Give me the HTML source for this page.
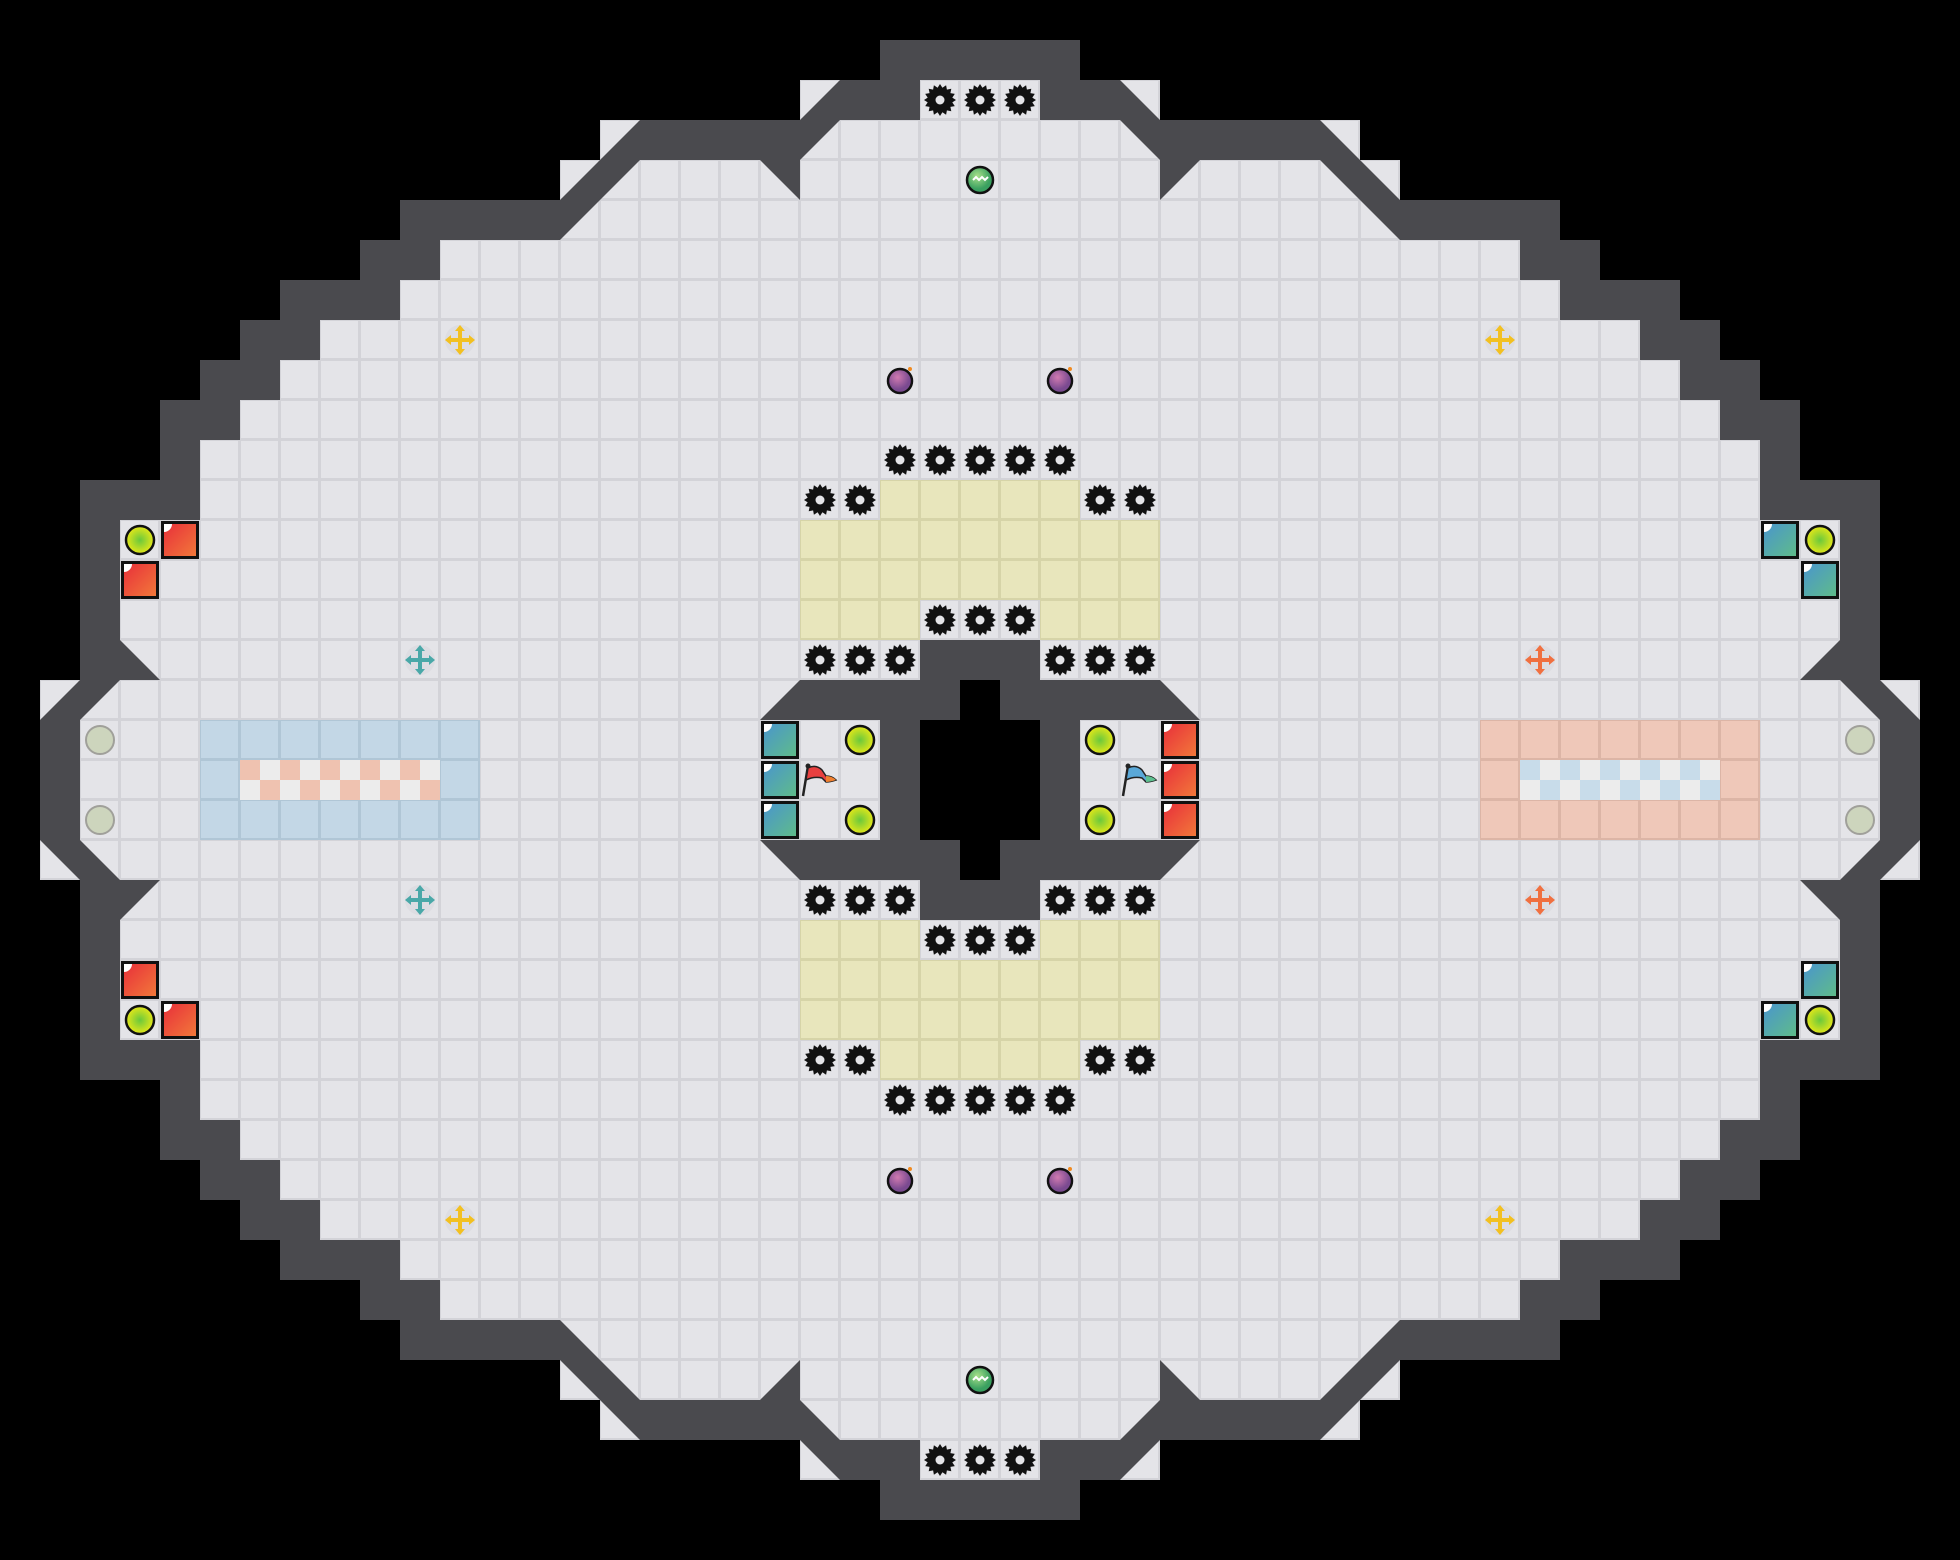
<!DOCTYPE html>
<html><head><meta charset="utf-8"><style>html,body{margin:0;padding:0;background:#000}svg{display:block}</style></head>
<body>
<svg id="s" xmlns="http://www.w3.org/2000/svg" width="1960" height="1560" viewBox="0 0 1960 1560">
<defs>
<linearGradient id="gr" x1="0" y1="0" x2="1" y2="1"><stop offset="0" stop-color="#e8303a"/><stop offset="1" stop-color="#f2783a"/></linearGradient>
<linearGradient id="gb" x1="0" y1="0" x2="1" y2="1"><stop offset="0" stop-color="#4a96cc"/><stop offset="1" stop-color="#5fbb8a"/></linearGradient>
<radialGradient id="gy"><stop offset="0" stop-color="#6ac83c"/><stop offset="1" stop-color="#e6e818"/></radialGradient>
<radialGradient id="gp" cx="0.4" cy="0.35"><stop offset="0" stop-color="#d07ab0"/><stop offset="1" stop-color="#7a4a90"/></radialGradient>
<radialGradient id="gg" cx="0.4" cy="0.35"><stop offset="0" stop-color="#a8e08a"/><stop offset="1" stop-color="#3aa060"/></radialGradient>
</defs>
<rect width="1960" height="1560" fill="#000"/>
<g id="g"></g>
</svg>
<script>
var T=40,W=49,H=39,m=[];
for(var r=0;r<H;r++){m.push([]);for(var c=0;c<W;c++)m[r].push(' ');}
function s(r,c,v){m[r][c]=v;}
var starts={2:23,3:21,4:16,5:15,6:11,7:10,8:8,9:7,10:6,11:5,12:5,13:3,14:3,15:3,16:4,17:3,18:2,19:2};
for(var k in starts){for(var c=starts[k];c<=24;c++)s(+k,c,'F');}
[[1,22],[1,23],[1,24],[2,21],[2,22]].forEach(function(p){s(p[0],p[1],'W')});
s(2,20,'A');for(c=16;c<=19;c++)s(3,c,'W');s(3,15,'A');s(3,20,'C');
s(4,14,'A');s(4,15,'C');s(4,19,'D');
for(c=10;c<=13;c++)s(5,c,'W');s(5,14,'C');
[[6,9],[6,10],[7,7],[7,8],[7,9],[8,6],[8,7],[9,5],[9,6],[10,4],[10,5],[11,4],[12,2],[12,3],[12,4],[13,2],[14,2],[15,2],[16,2],[18,1],[19,1]].forEach(function(p){s(p[0],p[1],'W')});
s(16,3,'B');s(17,1,'A');s(17,2,'C');
// center
s(16,23,'W');s(16,24,'W');s(17,19,'A');for(c=20;c<=23;c++)s(17,c,'W');s(17,24,' ');
s(18,22,'W');s(19,22,'W');s(18,23,' ');s(18,24,' ');s(19,23,' ');s(19,24,' ');
var hf={A:'B',B:'A',C:'D',D:'C'},vf={A:'D',D:'A',B:'C',C:'B'};
for(r=0;r<=19;r++)for(c=25;c<W;c++){var v=m[r][48-c];m[r][c]=hf[v]||v;}
for(r=20;r<H;r++)for(c=0;c<W;c++){var v=m[38-r][c];m[r][c]=vf[v]||v;}
var out=[];
function rect(x,y,w,h,f,ex){out.push('<rect x="'+x+'" y="'+y+'" width="'+w+'" height="'+h+'" fill="'+f+'" '+(ex||'')+'/>');}
function ftile(c,r,col,line){var x=c*T,y=r*T;rect(x,y,T,T,line||'#d3d3d8');rect(x+1,y+1,T-3,T-3,col||'#e4e4e8');}
var WC='#4a4a4e';
for(r=0;r<H;r++)for(c=0;c<W;c++){
 var v=m[r][c],x=c*T,y=r*T;
 if(v=='F')ftile(c,r);
 else if(v=='W')rect(x,y,T,T,WC);
 else if('ABCD'.indexOf(v)>=0){ftile(c,r);var pts={A:[[x+T,y],[x+T,y+T],[x,y+T]],B:[[x,y],[x,y+T],[x+T,y+T]],C:[[x,y],[x+T,y],[x,y+T]],D:[[x,y],[x+T,y],[x+T,y+T]]}[v];
 out.push('<polygon points="'+pts.map(function(p){return p.join(',')}).join(' ')+'" fill="'+WC+'"/>');}
}
// zones
function zone(c,r,col,line){ftile(c,r,col,line);}
for(r=12;r<=26;r++)for(c=20;c<=28;c++){
 var y=false;
 if((r==12||r==26)&&c>=22&&c<=26)y=true;
 if(r==13||r==14||r==24||r==25)y=true;
 if((r==15||r==23)&&(c<=22||c>=26))y=true;
 if(y)zone(c,r,'#e8e6bc','#d6d4a8');
}
for(r=18;r<=20;r++)for(c=5;c<=11;c++){zone(c,r,'#c3d7e6','#b0c6d6');zone(48-c,r,'#efc8b9','#dcb5a6');}
for(c=6;c<=10;c++){[0,1].forEach(function(i){[0,1].forEach(function(j){
 var x=c*T+i*20,y=19*T+j*20,red=((i+j)%2==0);
 rect(x,y,20,20,red?'#efc2b0':'#ececec');
 rect((48-c)*T+i*20,y,20,20,red?'#c8dcea':'#ececec');});});}
// items
function cx(c){return c*T+20;}
function spike(c,r){var X=cx(c),Y=cx(r),p=[];for(var i=0;i<32;i++){var a=i*Math.PI/16,rr=i%2?12.5:16;p.push((X+rr*Math.cos(a)).toFixed(1)+','+(Y+rr*Math.sin(a)).toFixed(1));}
 out.push('<polygon points="'+p.join(' ')+'" fill="#111"/><circle cx="'+X+'" cy="'+Y+'" r="4.5" fill="#e4e4e8"/>');}
function ball(c,r){out.push('<circle cx="'+cx(c)+'" cy="'+cx(r)+'" r="14" fill="url(#gy)" stroke="#111" stroke-width="2.5"/>');}
function box(c,r,g){var x=c*T,y=r*T;rect(x+1,y+1,38,38,'#111');rect(x+4,y+4,32,32,'url(#'+g+')');out.push('<path d="M'+(x+4)+' '+(y+4)+'h8a8 8 0 0 1 -8 8z" fill="#fff"/>');}
function bomb(c,r){out.push('<circle cx="'+cx(c)+'" cy="'+(cx(r)+1)+'" r="12" fill="url(#gp)" stroke="#111" stroke-width="2.5"/><circle cx="'+(cx(c)+10)+'" cy="'+(cx(r)-11)+'" r="2" fill="#f08a20"/>');}
function gate(c,r){out.push('<circle cx="'+cx(c)+'" cy="'+cx(r)+'" r="14" fill="#cdd5bd" stroke="#a0a09a" stroke-width="2"/>');}
function orb(c,r){out.push('<circle cx="'+cx(c)+'" cy="'+cx(r)+'" r="13" fill="url(#gg)" stroke="#111" stroke-width="2.5"/><path d="M'+(cx(c)-7)+' '+cx(r)+'l3 -3l3 3l3 -3l3 3l3 -3" stroke="#fff" fill="none" stroke-width="2"/>');}
function boost(c,r,col){var X=cx(c),Y=cx(r);out.push('<circle cx="'+X+'" cy="'+Y+'" r="15" fill="#d8d8de" opacity=".6"/><g stroke="'+col+'" stroke-width="4" fill="'+col+'"><line x1="'+(X-11)+'" y1="'+Y+'" x2="'+(X+11)+'" y2="'+Y+'"/><line x1="'+X+'" y1="'+(Y-11)+'" x2="'+X+'" y2="'+(Y+11)+'"/></g><g fill="'+col+'"><polygon points="'+(X-15)+','+Y+' '+(X-9)+','+(Y-5)+' '+(X-9)+','+(Y+5)+'"/><polygon points="'+(X+15)+','+Y+' '+(X+9)+','+(Y-5)+' '+(X+9)+','+(Y+5)+'"/><polygon points="'+X+','+(Y-15)+' '+(X-5)+','+(Y-9)+' '+(X+5)+','+(Y-9)+'"/><polygon points="'+X+','+(Y+15)+' '+(X-5)+','+(Y+9)+' '+(X+5)+','+(Y+9)+'"/></g>');}
function flag(c,r,c1,c2){var x=c*T,y=r*T;out.push('<line x1="'+(x+3)+'" y1="'+(y+36)+'" x2="'+(x+8)+'" y2="'+(y+6)+'" stroke="#222" stroke-width="2.5"/><circle cx="'+(x+8)+'" cy="'+(y+6)+'" r="2.5" fill="#222"/><path d="M'+(x+8)+' '+(y+8)+'q8 -4 14 2l4 6q6 0 10 4q-6 2 -10 2l-4 -4q-8 -2 -16 2z" fill="'+c1+'" stroke="#222" stroke-width="1.5"/><path d="M'+(x+26)+' '+(y+16)+'q6 0 10 4q-6 2 -10 2z" fill="'+c2+'"/>');}
[[2,23],[2,24],[2,25],[36,23],[36,24],[36,25],
 [11,22],[11,23],[11,24],[11,25],[11,26],[27,22],[27,23],[27,24],[27,25],[27,26],
 [12,20],[12,21],[12,27],[12,28],[26,20],[26,21],[26,27],[26,28],
 [15,23],[15,24],[15,25],[23,23],[23,24],[23,25],
 [16,20],[16,21],[16,22],[16,26],[16,27],[16,28],[22,20],[22,21],[22,22],[22,26],[22,27],[22,28]
].forEach(function(p){spike(p[1],p[0]);});
[[22,9],[26,9],[22,29],[26,29]].forEach(function(p){bomb(p[0],p[1]);});
orb(24,4);orb(24,34);
boost(11,8,'#f2c020');boost(37,8,'#f2c020');boost(11,30,'#f2c020');boost(37,30,'#f2c020');
boost(10,16,'#4aa8a8');boost(10,22,'#4aa8a8');boost(38,16,'#f07040');boost(38,22,'#f07040');
gate(2,18);gate(2,20);gate(46,18);gate(46,20);
ball(3,13);box(4,13,'gr');box(3,14,'gr');box(3,24,'gr');ball(3,25);box(4,25,'gr');
ball(45,13);box(44,13,'gb');box(45,14,'gb');box(45,24,'gb');ball(45,25);box(44,25,'gb');
box(19,18,'gb');box(19,19,'gb');box(19,20,'gb');ball(21,18);ball(21,20);
box(29,18,'gr');box(29,19,'gr');box(29,20,'gr');ball(27,18);ball(27,20);
flag(20,19,'#e84040','#f08030');flag(28,19,'#5aa8d8','#5ec090');
document.getElementById('g').innerHTML=out.join('');
</script>
</body></html>
